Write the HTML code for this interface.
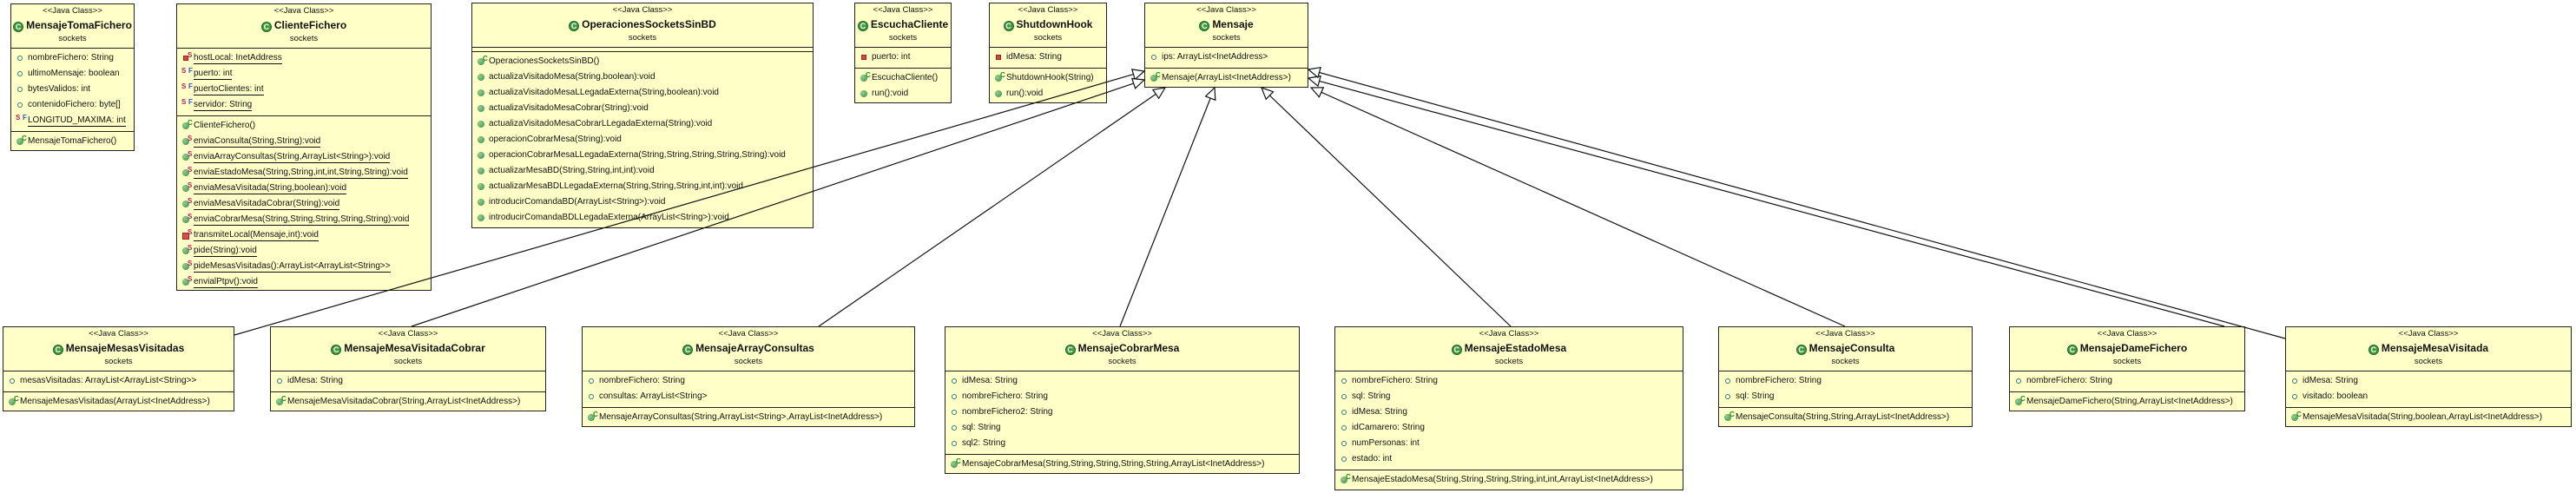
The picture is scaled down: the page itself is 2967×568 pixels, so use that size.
<!DOCTYPE html>
<html><head><meta charset="utf-8">
<style>
html,body{margin:0;padding:0;background:#fff;}
body{width:2967px;height:568px;position:relative;overflow:hidden;font-family:"Liberation Sans",Arial,sans-serif;}
.b{position:absolute;background:#ffffc8;border:1.5px solid #222;box-sizing:border-box;font-size:10px;color:#111;}
.h{height:50px;border-bottom:1.5px solid #222;text-align:center;white-space:nowrap;}
.st{font-size:9.5px;line-height:10px;padding-top:3px;}
.nm{font-weight:bold;font-size:12px;line-height:16px;margin-top:3px;white-space:nowrap;}
.pk{font-size:9.5px;line-height:12px;margin-top:2px;}
.c{padding:2px 0 3px 0;border-bottom:1.5px solid #222;}
.c:last-child{border-bottom:none;}
.c.e{padding:0;height:4px;}
.r{height:18px;line-height:18px;padding-left:19px;position:relative;white-space:nowrap;}
.u span.t{border-bottom:1.2px solid #111;padding-bottom:1px;}
.ci{display:inline-block;width:12px;height:12px;border-radius:50%;background:#3c9a3c;border:1px solid #226622;box-sizing:border-box;color:#fff;font-size:9px;line-height:11px;font-weight:bold;text-align:center;vertical-align:-1px;margin-right:3px;}
.pf{position:absolute;left:7px;top:6px;width:6px;height:6px;border-radius:50%;border:1.5px solid #2e7d4a;box-sizing:border-box;background:#fff;}
.pv{position:absolute;left:7px;top:6px;width:6px;height:6px;background:#d04848;box-sizing:border-box;border:1px solid #a02020;}
.m{position:absolute;left:6px;top:5px;width:8px;height:8px;border-radius:50%;background:radial-gradient(circle at 35% 35%,#8fd08f,#3a8a4a);}
.sq{position:absolute;left:6px;top:6px;width:8px;height:8px;background:#d05050;border:1px solid #a02020;box-sizing:border-box;}
.sup{position:absolute;top:1px;font-size:8px;line-height:9px;font-weight:bold;}
.sc{left:12px;color:#1f8a1f;}
.ss{left:12px;color:#c0185a;}
.sf{left:13px;color:#3050c0;}
.ss2{left:5px;color:#c0185a;}
svg{position:absolute;left:0;top:0;}
</style></head><body>

<div class="b" style="left:12px;top:4px;width:143px;height:170px;">
<div class="h"><div class="st">&lt;&lt;Java Class&gt;&gt;</div><div class="nm"><span class="ci">C</span>MensajeTomaFichero</div><div class="pk">sockets</div></div>
<div class="c">
<div class="r"><i class="pf"></i>nombreFichero: String</div>
<div class="r"><i class="pf"></i>ultimoMensaje: boolean</div>
<div class="r"><i class="pf"></i>bytesValidos: int</div>
<div class="r"><i class="pf"></i>contenidoFichero: byte[]</div>
<div class="r u"><b class="sup ss2">S</b><b class="sup sf">F</b><span class="t">LONGITUD_MAXIMA: int</span></div>
</div>
<div class="c"><div class="r"><i class="m"></i><b class="sup sc">C</b>MensajeTomaFichero()</div></div>
</div>

<div class="b" style="left:203px;top:4px;width:294px;height:331px;">
<div class="h"><div class="st">&lt;&lt;Java Class&gt;&gt;</div><div class="nm"><span class="ci">C</span>ClienteFichero</div><div class="pk">sockets</div></div>
<div class="c">
<div class="r u"><i class="pv"></i><b class="sup ss">S</b><span class="t">hostLocal: InetAddress</span></div>
<div class="r u"><b class="sup ss2">S</b><b class="sup sf">F</b><span class="t">puerto: int</span></div>
<div class="r u"><b class="sup ss2">S</b><b class="sup sf">F</b><span class="t">puertoClientes: int</span></div>
<div class="r u"><b class="sup ss2">S</b><b class="sup sf">F</b><span class="t">servidor: String</span></div>
</div>
<div class="c">
<div class="r"><i class="m"></i><b class="sup sc">C</b>ClienteFichero()</div>
<div class="r u"><i class="m"></i><b class="sup ss">S</b><span class="t">enviaConsulta(String,String):void</span></div>
<div class="r u"><i class="m"></i><b class="sup ss">S</b><span class="t">enviaArrayConsultas(String,ArrayList&lt;String&gt;):void</span></div>
<div class="r u"><i class="m"></i><b class="sup ss">S</b><span class="t">enviaEstadoMesa(String,String,int,int,String,String):void</span></div>
<div class="r u"><i class="m"></i><b class="sup ss">S</b><span class="t">enviaMesaVisitada(String,boolean):void</span></div>
<div class="r u"><i class="m"></i><b class="sup ss">S</b><span class="t">enviaMesaVisitadaCobrar(String):void</span></div>
<div class="r u"><i class="m"></i><b class="sup ss">S</b><span class="t">enviaCobrarMesa(String,String,String,String,String):void</span></div>
<div class="r u"><i class="sq"></i><b class="sup ss">S</b><span class="t">transmiteLocal(Mensaje,int):void</span></div>
<div class="r u"><i class="m"></i><b class="sup ss">S</b><span class="t">pide(String):void</span></div>
<div class="r u"><i class="m"></i><b class="sup ss">S</b><span class="t">pideMesasVisitadas():ArrayList&lt;ArrayList&lt;String&gt;&gt;</span></div>
<div class="r u"><i class="m"></i><b class="sup ss">S</b><span class="t">envialPtpv():void</span></div>
</div>
</div>

<div class="b" style="left:543px;top:3px;width:394px;height:260px;">
<div class="h"><div class="st">&lt;&lt;Java Class&gt;&gt;</div><div class="nm"><span class="ci">C</span>OperacionesSocketsSinBD</div><div class="pk">sockets</div></div>
<div class="c e"></div>
<div class="c">
<div class="r"><i class="m"></i><b class="sup sc">C</b>OperacionesSocketsSinBD()</div>
<div class="r"><i class="m"></i>actualizaVisitadoMesa(String,boolean):void</div>
<div class="r"><i class="m"></i>actualizaVisitadoMesaLLegadaExterna(String,boolean):void</div>
<div class="r"><i class="m"></i>actualizaVisitadoMesaCobrar(String):void</div>
<div class="r"><i class="m"></i>actualizaVisitadoMesaCobrarLLegadaExterna(String):void</div>
<div class="r"><i class="m"></i>operacionCobrarMesa(String):void</div>
<div class="r"><i class="m"></i>operacionCobrarMesaLLegadaExterna(String,String,String,String,String):void</div>
<div class="r"><i class="m"></i>actualizarMesaBD(String,String,int,int):void</div>
<div class="r"><i class="m"></i>actualizarMesaBDLLegadaExterna(String,String,String,int,int):void</div>
<div class="r"><i class="m"></i>introducirComandaBD(ArrayList&lt;String&gt;):void</div>
<div class="r"><i class="m"></i>introducirComandaBDLLegadaExterna(ArrayList&lt;String&gt;):void</div>
</div>
</div>

<div class="b" style="left:984px;top:3px;width:112px;height:116px;">
<div class="h"><div class="st">&lt;&lt;Java Class&gt;&gt;</div><div class="nm"><span class="ci">C</span>EscuchaCliente</div><div class="pk">sockets</div></div>
<div class="c"><div class="r"><i class="pv"></i>puerto: int</div></div>
<div class="c"><div class="r"><i class="m"></i><b class="sup sc">C</b>EscuchaCliente()</div><div class="r"><i class="m"></i>run():void</div></div>
</div>

<div class="b" style="left:1139px;top:3px;width:136px;height:116px;">
<div class="h"><div class="st">&lt;&lt;Java Class&gt;&gt;</div><div class="nm"><span class="ci">C</span>ShutdownHook</div><div class="pk">sockets</div></div>
<div class="c"><div class="r"><i class="pv"></i>idMesa: String</div></div>
<div class="c"><div class="r"><i class="m"></i><b class="sup sc">C</b>ShutdownHook(String)</div><div class="r"><i class="m"></i>run():void</div></div>
</div>

<div class="b" style="left:1318px;top:3px;width:189px;height:98px;">
<div class="h"><div class="st">&lt;&lt;Java Class&gt;&gt;</div><div class="nm"><span class="ci">C</span>Mensaje</div><div class="pk">sockets</div></div>
<div class="c"><div class="r"><i class="pf"></i>ips: ArrayList&lt;InetAddress&gt;</div></div>
<div class="c"><div class="r"><i class="m"></i><b class="sup sc">C</b>Mensaje(ArrayList&lt;InetAddress&gt;)</div></div>
</div>

<div class="b" style="left:3px;top:376px;width:267px;height:98px;">
<div class="h"><div class="st">&lt;&lt;Java Class&gt;&gt;</div><div class="nm"><span class="ci">C</span>MensajeMesasVisitadas</div><div class="pk">sockets</div></div>
<div class="c"><div class="r"><i class="pf"></i>mesasVisitadas: ArrayList&lt;ArrayList&lt;String&gt;&gt;</div></div>
<div class="c"><div class="r"><i class="m"></i><b class="sup sc">C</b>MensajeMesasVisitadas(ArrayList&lt;InetAddress&gt;)</div></div>
</div>

<div class="b" style="left:311px;top:376px;width:318px;height:98px;">
<div class="h"><div class="st">&lt;&lt;Java Class&gt;&gt;</div><div class="nm"><span class="ci">C</span>MensajeMesaVisitadaCobrar</div><div class="pk">sockets</div></div>
<div class="c"><div class="r"><i class="pf"></i>idMesa: String</div></div>
<div class="c"><div class="r"><i class="m"></i><b class="sup sc">C</b>MensajeMesaVisitadaCobrar(String,ArrayList&lt;InetAddress&gt;)</div></div>
</div>

<div class="b" style="left:670px;top:376px;width:384px;height:116px;">
<div class="h"><div class="st">&lt;&lt;Java Class&gt;&gt;</div><div class="nm"><span class="ci">C</span>MensajeArrayConsultas</div><div class="pk">sockets</div></div>
<div class="c"><div class="r"><i class="pf"></i>nombreFichero: String</div><div class="r"><i class="pf"></i>consultas: ArrayList&lt;String&gt;</div></div>
<div class="c"><div class="r"><i class="m"></i><b class="sup sc">C</b>MensajeArrayConsultas(String,ArrayList&lt;String&gt;,ArrayList&lt;InetAddress&gt;)</div></div>
</div>

<div class="b" style="left:1088px;top:376px;width:409px;height:170px;">
<div class="h"><div class="st">&lt;&lt;Java Class&gt;&gt;</div><div class="nm"><span class="ci">C</span>MensajeCobrarMesa</div><div class="pk">sockets</div></div>
<div class="c">
<div class="r"><i class="pf"></i>idMesa: String</div>
<div class="r"><i class="pf"></i>nombreFichero: String</div>
<div class="r"><i class="pf"></i>nombreFichero2: String</div>
<div class="r"><i class="pf"></i>sql: String</div>
<div class="r"><i class="pf"></i>sql2: String</div>
</div>
<div class="c"><div class="r"><i class="m"></i><b class="sup sc">C</b>MensajeCobrarMesa(String,String,String,String,String,ArrayList&lt;InetAddress&gt;)</div></div>
</div>

<div class="b" style="left:1537px;top:376px;width:402px;height:189px;">
<div class="h"><div class="st">&lt;&lt;Java Class&gt;&gt;</div><div class="nm"><span class="ci">C</span>MensajeEstadoMesa</div><div class="pk">sockets</div></div>
<div class="c">
<div class="r"><i class="pf"></i>nombreFichero: String</div>
<div class="r"><i class="pf"></i>sql: String</div>
<div class="r"><i class="pf"></i>idMesa: String</div>
<div class="r"><i class="pf"></i>idCamarero: String</div>
<div class="r"><i class="pf"></i>numPersonas: int</div>
<div class="r"><i class="pf"></i>estado: int</div>
</div>
<div class="c"><div class="r"><i class="m"></i><b class="sup sc">C</b>MensajeEstadoMesa(String,String,String,String,int,int,ArrayList&lt;InetAddress&gt;)</div></div>
</div>

<div class="b" style="left:1979px;top:376px;width:293px;height:116px;">
<div class="h"><div class="st">&lt;&lt;Java Class&gt;&gt;</div><div class="nm"><span class="ci">C</span>MensajeConsulta</div><div class="pk">sockets</div></div>
<div class="c"><div class="r"><i class="pf"></i>nombreFichero: String</div><div class="r"><i class="pf"></i>sql: String</div></div>
<div class="c"><div class="r"><i class="m"></i><b class="sup sc">C</b>MensajeConsulta(String,String,ArrayList&lt;InetAddress&gt;)</div></div>
</div>

<div class="b" style="left:2314px;top:376px;width:272px;height:98px;">
<div class="h"><div class="st">&lt;&lt;Java Class&gt;&gt;</div><div class="nm"><span class="ci">C</span>MensajeDameFichero</div><div class="pk">sockets</div></div>
<div class="c"><div class="r"><i class="pf"></i>nombreFichero: String</div></div>
<div class="c"><div class="r"><i class="m"></i><b class="sup sc">C</b>MensajeDameFichero(String,ArrayList&lt;InetAddress&gt;)</div></div>
</div>

<div class="b" style="left:2632px;top:376px;width:330px;height:116px;">
<div class="h"><div class="st">&lt;&lt;Java Class&gt;&gt;</div><div class="nm"><span class="ci">C</span>MensajeMesaVisitada</div><div class="pk">sockets</div></div>
<div class="c"><div class="r"><i class="pf"></i>idMesa: String</div><div class="r"><i class="pf"></i>visitado: boolean</div></div>
<div class="c"><div class="r"><i class="m"></i><b class="sup sc">C</b>MensajeMesaVisitada(String,boolean,ArrayList&lt;InetAddress&gt;)</div></div>
</div>

<svg id="s" width="2967" height="568" xmlns="http://www.w3.org/2000/svg"></svg>
<script>
(function(){
var s=document.getElementById('s');
var A=[[270,386,1318,82],[474,376,1318,92],[943,376,1342,101],[1290,376,1399,101],[1740,376,1453,101],[2125,376,1510,101],[2562,376,1507,90],[2632,390,1507,80]];
var h='';
A.forEach(function(a){
var dx=a[2]-a[0],dy=a[3]-a[1],L=Math.sqrt(dx*dx+dy*dy),ux=dx/L,uy=dy/L;
var bx=a[2]-13*ux,by=a[3]-13*uy,nx=-uy,ny=ux;
h+='<line x1="'+a[0]+'" y1="'+a[1]+'" x2="'+bx.toFixed(1)+'" y2="'+by.toFixed(1)+'" stroke="#111" stroke-width="1.2"/>';
h+='<polygon points="'+a[2]+','+a[3]+' '+(bx+6*nx).toFixed(1)+','+(by+6*ny).toFixed(1)+' '+(bx-6*nx).toFixed(1)+','+(by-6*ny).toFixed(1)+'" fill="#fff" stroke="#111" stroke-width="1.2"/>';
});
s.innerHTML=h;
})();
</script>
</body></html>
